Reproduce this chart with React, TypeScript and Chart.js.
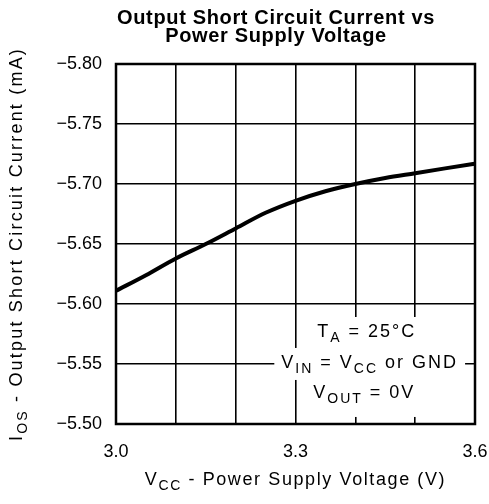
import React, { useEffect, useRef } from "react";
import { Chart, registerables } from "chart.js";

Chart.register(...registerables);

// ---- data ----
const voltage = [3.0, 3.05, 3.1, 3.15, 3.2, 3.25, 3.3, 3.35, 3.4, 3.45, 3.5, 3.55, 3.6];
const shortCurrent = [-5.611, -5.624, -5.638, -5.65, -5.663, -5.676, -5.686, -5.694, -5.7, -5.705, -5.709, -5.713, -5.717];
const xGridValues = [3.0, 3.1, 3.2, 3.3, 3.4, 3.5, 3.6];
const xTickLabels = ["3.0", "3.3", "3.6"];
const yGridValues = [-5.8, -5.75, -5.7, -5.65, -5.6, -5.55, -5.5];
const titleLines = ["Output Short Circuit Current vs", "Power Supply Voltage"];

type Run = { t: string; sub?: boolean };
const xTitleRuns: Run[] = [{ t: "V" }, { t: "CC", sub: true }, { t: " - Power Supply Voltage (V)" }];
const yTitleRuns: Run[] = [{ t: "I" }, { t: "OS", sub: true }, { t: " - Output Short Circuit Current (mA)" }];
const noteLines: Run[][] = [
  [{ t: "T" }, { t: "A", sub: true }, { t: " = 25°C" }],
  [{ t: "V" }, { t: "IN", sub: true }, { t: " = V" }, { t: "CC", sub: true }, { t: " or GND" }],
  [{ t: "V" }, { t: "OUT", sub: true }, { t: " = 0V" }],
];
// anchor of each note line in data units (x centre, y baseline)
const noteX = [3.419, 3.424, 3.415];
const noteY = [-5.5725, -5.5467, -5.5217];

const FONT = "'Liberation Sans', Arial, Helvetica, sans-serif";

function runsWidth(ctx: CanvasRenderingContext2D, runs: Run[], size: number, sub: number) {
  let w = 0;
  for (const r of runs) {
    ctx.font = `${r.sub ? sub : size}px ${FONT}`;
    w += ctx.measureText(r.t).width;
  }
  return w;
}

function drawRuns(ctx: CanvasRenderingContext2D, runs: Run[], cx: number, baseline: number, size: number, sub: number) {
  const w = runsWidth(ctx, runs, size, sub);
  let x = cx - w / 2;
  ctx.textAlign = "left";
  ctx.textBaseline = "alphabetic";
  for (const r of runs) {
    ctx.font = `${r.sub ? sub : size}px ${FONT}`;
    ctx.fillText(r.t, x, baseline + (r.sub ? 5 : 0));
    x += ctx.measureText(r.t).width;
  }
  return w;
}

const textPlugin = {
  id: "textPlugin",
  beforeDatasetsDraw(chart: any) {
    const { ctx, chartArea } = chart;
    ctx.save();
    ctx.strokeStyle = "#000";
    ctx.lineWidth = 2.5;
    ctx.strokeRect(chartArea.left, chartArea.top, chartArea.right - chartArea.left, chartArea.bottom - chartArea.top);
    ctx.restore();
  },
  afterDraw(chart: any) {
    const { ctx, chartArea, scales } = chart;
    ctx.save();
    ctx.fillStyle = "#000";
    // title
    (ctx as any).letterSpacing = "0.65px";
    ctx.font = `bold 20px ${FONT}`;
    ctx.textAlign = "center";
    ctx.textBaseline = "alphabetic";
    titleLines.forEach((line, i) => ctx.fillText(line, 276, 24 + i * 18));

    // axis titles
    (ctx as any).letterSpacing = "1.6px";
    const cx = (chartArea.left + chartArea.right) / 2;
    drawRuns(ctx, xTitleRuns, cx, 485, 18, 14);

    (ctx as any).letterSpacing = "2.2px";
    ctx.save();
    ctx.translate(21.5, (chartArea.top + chartArea.bottom) / 2);
    ctx.rotate(-Math.PI / 2);
    drawRuns(ctx, yTitleRuns, 0, 0, 18, 14);
    ctx.restore();

    // conditions note
    (ctx as any).letterSpacing = "2px";
    noteLines.forEach((runs, i) => {
      const x = scales.x.getPixelForValue(noteX[i]);
      const y = scales.y.getPixelForValue(noteY[i]);
      const w = runsWidth(ctx, runs, 18, 14);
      ctx.fillStyle = "#fff";
      const top = y - 20;
      const bottom = i === noteLines.length - 1 ? y + 19 : y + 12;
      ctx.fillRect(x - w / 2 - 7, top, w + 14, bottom - top);
      ctx.fillStyle = "#000";
      drawRuns(ctx, runs, x, y, 18, 14);
    });
    ctx.restore();
  },
};

export default function App() {
  const ref = useRef<HTMLCanvasElement | null>(null);
  useEffect(() => {
    if (!ref.current) return;
    const chart = new Chart(ref.current, {
      type: "line",
      data: {
        datasets: [
          {
            data: voltage.map((v, i) => ({ x: v, y: shortCurrent[i] })),
            borderColor: "#000",
            borderWidth: 4,
            pointRadius: 0,
            cubicInterpolationMode: "monotone",
            fill: false,
          },
        ],
      },
      options: {
        responsive: false,
        animation: false,
        events: [],
        layout: { padding: { top: 64, right: 14, left: 0, bottom: 0 } },
        plugins: { legend: { display: false }, tooltip: { enabled: false }, title: { display: false } },
        scales: {
          x: {
            type: "linear",
            min: 3.0,
            max: 3.6,
            afterFit: (s: any) => { s.height = 80; s.paddingLeft = 0; s.paddingRight = 0; },
            afterBuildTicks: (s: any) => { s.ticks = xGridValues.map((v) => ({ value: v })); },
            grid: { color: "#000", lineWidth: 1.6, drawTicks: false },
            border: { display: false },
            ticks: {
              padding: 17,
              color: "#000",
              font: { family: FONT, size: 18 },
              maxRotation: 0,
              autoSkip: false,
              callback: (v: any) => {
                const s = Number(v).toFixed(1);
                return xTickLabels.includes(s) ? s : "";
              },
            },
          },
          y: {
            type: "linear",
            min: -5.8,
            max: -5.5,
            reverse: true,
            afterFit: (s: any) => { s.width = 116; s.paddingTop = 0; s.paddingBottom = 0; },
            afterBuildTicks: (s: any) => { s.ticks = yGridValues.map((v) => ({ value: v })); },
            grid: { color: "#000", lineWidth: 1.6, drawTicks: false },
            border: { display: false },
            ticks: {
              padding: 14,
              color: "#000",
              font: { family: FONT, size: 18 },
              autoSkip: false,
              callback: (v: any) => "\u2212" + Math.abs(Number(v)).toFixed(2),
            },
          },
        },
      } as any,
      plugins: [textPlugin],
    });
    return () => chart.destroy();
  }, []);
  return (
    <div style={{ position: "absolute", left: 0, top: 0, width: 489, height: 504, background: "#fff" }}>
      <canvas ref={ref} width={489} height={504} style={{ display: "block" }} />
    </div>
  );
}
